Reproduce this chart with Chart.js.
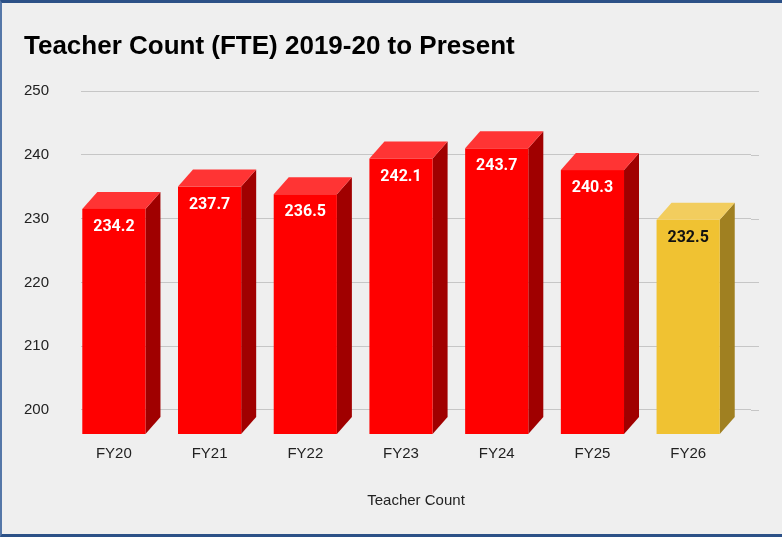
<!DOCTYPE html>
<html>
<head>
<meta charset="utf-8">
<script src="https://cdn.jsdelivr.net/npm/chart.js@4.4.1/dist/chart.umd.min.js"></script>
<style>
  html, body { margin: 0; padding: 0; background: #efefef; }
  #wrap { position: relative; width: 782px; height: 537px; }
  #frame {
    position: absolute; left: 0; top: 0; right: 0; bottom: 0;
    border-top: 3px solid #2c5187;
    border-left: 2px solid #5577a8;
    border-bottom: 3px solid #2c5187;
    pointer-events: none;
  }
</style>
</head>
<body>
<div id="wrap">
  <canvas id="chart"></canvas>
  <div id="frame"></div>
</div>
<script>
// chart data
const years = ['FY20', 'FY21', 'FY22', 'FY23', 'FY24', 'FY25', 'FY26'];
const teacherCount = [234.2, 237.7, 236.5, 242.1, 243.7, 240.3, 232.5];
const yTicks = [200, 210, 220, 230, 240, 250];

// 3d look
const DX = 15;
const DY = 17;
const faces = {
    red: { front: '#ff0000', side: '#a00000', top: '#ff3434', text: '#ffffff' },
    gold: { front: '#f0c232', side: '#a08021', top: '#f2cd5e', text: '#111111' }
};

function shade(i) {
    return i === years.length - 1 ? faces.gold : faces.red;
}

const bars3d = {
    id: 'bars3d',
    beforeDatasetsDraw(chart) {
        // gridlines run a little past the last bar
        const ctx = chart.ctx;
        const area = chart.chartArea;
        const y = chart.scales.y;
        ctx.save();
        ctx.strokeStyle = '#c6c6c6';
        ctx.lineWidth = 1;
        yTicks.forEach(t => {
            const py = Math.round(y.getPixelForValue(t)) + 0.5;
            ctx.beginPath();
            ctx.moveTo(area.right, py);
            ctx.lineTo(area.right + 8, py);
            ctx.stroke();
        });
        ctx.restore();
    },
    afterDatasetsDraw(chart) {
        const ctx = chart.ctx;
        const area = chart.chartArea;
        const meta = chart.getDatasetMeta(0);
        ctx.save();
        meta.data.forEach((bar, i) => {
            const c = shade(i);
            const l = bar.x - bar.width / 2;
            const r = bar.x + bar.width / 2;
            const top = bar.y;
            const base = Math.min(bar.base, area.bottom);
            // side
            ctx.fillStyle = c.side;
            ctx.beginPath();
            ctx.moveTo(r - DX, top + DY);
            ctx.lineTo(r, top);
            ctx.lineTo(r, base);
            ctx.lineTo(r - DX, base + DY);
            ctx.closePath();
            ctx.fill();
            // top
            ctx.fillStyle = c.top;
            ctx.beginPath();
            ctx.moveTo(l - DX, top + DY);
            ctx.lineTo(l, top);
            ctx.lineTo(r, top);
            ctx.lineTo(r - DX, top + DY);
            ctx.closePath();
            ctx.fill();
            // front
            ctx.fillStyle = c.front;
            ctx.fillRect(l - DX, top + DY, bar.width, base - top);
            // value
            ctx.fillStyle = c.text;
            ctx.font = 'bold 16px Roboto';
            ctx.textAlign = 'center';
            ctx.textBaseline = 'middle';
            ctx.fillText(teacherCount[i].toFixed(1), bar.x - DX, top + DY + 18);
        });
        ctx.restore();
    }
};

new Chart(document.getElementById('chart'), {
    type: 'bar',
    data: {
        labels: years,
        datasets: [{
            label: 'Teacher Count',
            data: teacherCount,
            backgroundColor: 'rgba(0,0,0,0)',
            borderWidth: 0,
            categoryPercentage: 1,
            barPercentage: 0.66
        }]
    },
    options: {
        responsive: true,
        maintainAspectRatio: false,
        animation: false,
        layout: {
            padding: { left: 24, right: 31, top: 0, bottom: 0 }
        },
        plugins: {
            legend: { display: false },
            tooltip: { enabled: false },
            title: {
                display: true,
                text: 'Teacher Count (FTE) 2019-20 to Present',
                align: 'start',
                color: '#000000',
                font: { family: 'Liberation Sans', size: 26, weight: 'bold' },
                padding: { top: 31, bottom: 29 }
            }
        },
        scales: {
            x: {
                grid: { display: false },
                border: { display: false },
                ticks: {
                    color: '#222222',
                    font: { family: 'Liberation Sans', size: 15 },
                    padding: 20,
                    labelOffset: -DX,
                    maxRotation: 0,
                    minRotation: 0,
                    autoSkip: false
                },
                title: {
                    display: true,
                    text: 'Teacher Count',
                    color: '#222222',
                    font: { family: 'Liberation Sans', size: 15 },
                    padding: { top: 9, bottom: 27 }
                }
            },
            y: {
                min: 198.9,
                max: 250,
                afterBuildTicks(scale) {
                    scale.ticks = yTicks.map(v => ({ value: v }));
                },
                grid: { color: '#c6c6c6', drawTicks: false },
                border: { display: false },
                ticks: {
                    color: '#222222',
                    font: { family: 'Liberation Sans', size: 15 },
                    padding: 16,
                    crossAlign: 'far'
                }
            }
        }
    },
    plugins: [bars3d]
});
</script>
</body>
</html>
